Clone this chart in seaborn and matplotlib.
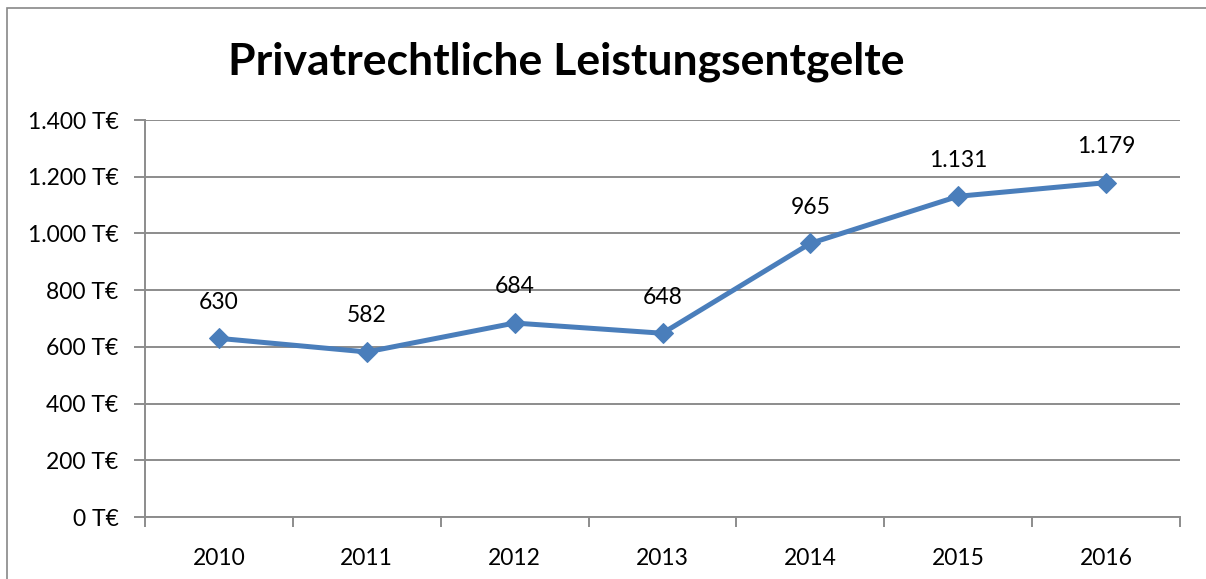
import pandas as pd
import matplotlib.pyplot as plt
import seaborn as sns
from matplotlib.ticker import FixedLocator, FuncFormatter
from matplotlib.patches import Rectangle

years = ['2010', '2011', '2012', '2013', '2014', '2015', '2016']
values = [630, 582, 684, 648, 965, 1131, 1179]
yticks = [0, 200, 400, 600, 800, 1000, 1200, 1400]

line_color = '#4A7EBB'
grid_color = '#8C8C8C'


def de_num(v):
	return f"{v:,.0f}".replace(',', '.')


sns.set_style('white')
plt.rcParams['font.family'] = ['Lato', 'DejaVu Sans']
plt.rcParams['text.color'] = 'black'
plt.rcParams['xtick.color'] = 'black'
plt.rcParams['ytick.color'] = 'black'

df = pd.DataFrame({'year': years, 'value': values})

fig = plt.figure(figsize=(12.06, 5.79), dpi=100)
ax = fig.add_axes([145 / 1206, 62 / 579, 1035 / 1206, 397 / 579])

sns.lineplot(data=df, x='year', y='value', ax=ax, color=line_color,
	linewidth=3.6, marker='D', markersize=10, markeredgecolor=line_color,
	markerfacecolor=line_color, sort=False)

for i, v in enumerate(values):
	ax.annotate(de_num(v), (i, v), xytext=(0, 26), textcoords='offset points',
		ha='center', va='center', fontsize=16.5, color='black')

ax.set_xlim(-0.5, len(years) - 0.5)
ax.set_ylim(0, 1400)
ax.set_yticks(yticks)
ax.yaxis.set_major_formatter(FuncFormatter(lambda v, p: f"{de_num(v)} T€"))
ax.grid(axis='y', color=grid_color, linewidth=1.4)
ax.set_axisbelow(True)

# excel-style: tick marks between categories, labels centred
ax.set_xticks(range(len(years)))
ax.set_xticklabels(years)
ax.xaxis.set_minor_locator(FixedLocator([i - 0.5 for i in range(len(years) + 1)]))
ax.tick_params(axis='x', which='major', length=0, pad=22, labelsize=16.5, labelcolor='black')
ax.tick_params(axis='x', which='minor', length=7.5, width=1.4, color=grid_color, direction='out', bottom=True)
ax.tick_params(axis='y', length=8, width=1.4, color=grid_color, pad=11, labelsize=16.5, left=True, labelcolor='black')

ax.set_xlabel('')
ax.set_ylabel('')
for s in ['top', 'right']:
	ax.spines[s].set_visible(False)
for s in ['left', 'bottom']:
	ax.spines[s].set_color(grid_color)
	ax.spines[s].set_linewidth(1.4)

fig.text(566 / 1206, 1 - 62 / 579, 'Privatrechtliche Leistungsentgelte',
	ha='center', va='center', fontsize=32, fontweight='bold', color='black')

fig.patches.append(Rectangle((7 / 1206, -0.1), 1.2, (579 - 8) / 579 + 0.1,
	transform=fig.transFigure, fill=False, edgecolor='#888888', linewidth=1.2))

plt.savefig('out.png', dpi=100)
